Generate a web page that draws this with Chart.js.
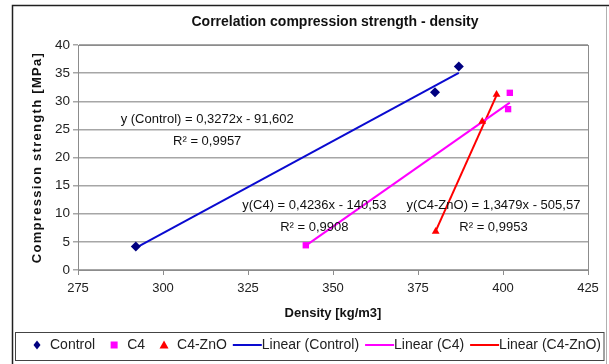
<!DOCTYPE html>
<html>
<head>
<meta charset="utf-8">
<script src="https://cdn.jsdelivr.net/npm/chart.js@4.4.1/dist/chart.umd.min.js"></script>
<style>
  html, body { margin: 0; padding: 0; background: #fff; }
  #wrap { width: 609px; height: 364px; position: relative; }
</style>
</head>
<body>
<div id="wrap"><canvas id="chart" width="609" height="364"></canvas></div>
<script>
// series names
const seriesNames = ["Control", "C4", "C4-ZnO"];

// density (x) and compression strength (y)
const controlX = [292, 380, 387];
const controlY = [4.2, 31.6, 36.2];
const c4X = [342, 402, 401.5];
const c4Y = [4.4, 31.5, 28.6];
const znoX = [380.2, 393.9, 398.1];
const znoY = [6.85, 26.4, 31.2];

// trendline coefficients as printed on the chart
const fitSlope = [0.3272, 0.4236, 1.3479];
const fitIntercept = [-91.602, -140.53, -505.57];
const fitText = ["y (Control) = 0,3272x - 91,602", "y(C4) = 0,4236x - 140,53", "y(C4-ZnO) = 1,3479x - 505,57"];
const r2Text = ["R\u00b2 = 0,9957", "R\u00b2 = 0,9908", "R\u00b2 = 0,9953"];

// axis ticks
const xTicks = [275, 300, 325, 350, 375, 400, 425];
const yTicks = [0, 5, 10, 15, 20, 25, 30, 35, 40];

const FONT = "'Liberation Sans', Arial, sans-serif";
const markerColors = ["#000080", "#ff00ff", "#ff0000"];
const lineColors = ["#0a0ad0", "#ff00ff", "#ff0000"];
const markerStyles = ["rectRot", "rect", "triangle"];

const pts = (xs, ys) => xs.map((x, i) => ({ x: x, y: ys[i] }));
const fitLine = (xs, k) => {
  const lo = Math.min(...xs), hi = Math.max(...xs);
  return [lo, hi].map(x => ({ x: x, y: fitSlope[k] * x + fitIntercept[k] }));
};

const allX = [controlX, c4X, znoX];
const allY = [controlY, c4Y, znoY];

const datasets = [];
seriesNames.forEach((name, k) => {
  datasets.push({
    label: name,
    type: "scatter",
    data: pts(allX[k], allY[k]),
    pointStyle: markerStyles[k],
    pointRadius: k === 0 ? 5 : 4.5,
    backgroundColor: markerColors[k],
    borderColor: markerColors[k],
    borderWidth: 0,
    order: 1,
  });
});
seriesNames.forEach((name, k) => {
  datasets.push({
    label: "Linear (" + name + ")",
    type: "line",
    data: fitLine(allX[k], k),
    borderColor: lineColors[k],
    borderWidth: 2,
    pointRadius: 0,
    fill: false,
    order: 2,
  });
});

// annotation anchors in data units
const notes = [
  { x: 313, y: 26.8, r: 22.9 },
  { x: 344.5, y: 11.4, r: 7.5 },
  { x: 397.2, y: 11.4, r: 7.5 },
];

const decor = {
  id: "decor",
  beforeDraw(chart) {
    const ctx = chart.ctx;
    ctx.save();
    ctx.fillStyle = "#fff";
    ctx.fillRect(0, 0, chart.width, chart.height);
    // outer frame
    ctx.strokeStyle = "#202020";
    ctx.lineWidth = 1.5;
    ctx.beginPath();
    ctx.moveTo(12.5, 400); ctx.lineTo(12.5, 5.5); ctx.lineTo(609, 5.5);
    ctx.stroke();
    ctx.strokeStyle = "#b0b0b0";
    ctx.lineWidth = 1;
    ctx.beginPath();
    ctx.moveTo(606.5, 6); ctx.lineTo(606.5, 364);
    ctx.stroke();
    ctx.restore();
  },
  afterDatasetsDraw(chart) {
    const ctx = chart.ctx;
    const xs = chart.scales.x, ys = chart.scales.y;
    const a = chart.chartArea;
    ctx.save();
    // plot border
    ctx.strokeStyle = "#8c8c8c";
    ctx.lineWidth = 1;
    ctx.strokeRect(Math.round(a.left) + 0.5, Math.round(a.top) + 0.5, Math.round(a.right - a.left), Math.round(a.bottom - a.top));
    // equations
    ctx.fillStyle = "#111";
    ctx.font = "13px " + FONT;
    ctx.textAlign = "center";
    ctx.textBaseline = "middle";
    notes.forEach((n, k) => {
      ctx.fillText(fitText[k], xs.getPixelForValue(n.x), ys.getPixelForValue(n.y));
      ctx.fillText(r2Text[k], xs.getPixelForValue(n.x), ys.getPixelForValue(n.r));
    });
    // title
    ctx.font = "bold 14px " + FONT;
    ctx.fillText("Correlation compression strength - density", 335, 22);
    // y axis title with a little tracking
    ctx.save();
    ctx.translate(37, (a.top + a.bottom) / 2);
    ctx.rotate(-Math.PI / 2);
    ctx.font = "bold 13px " + FONT;
    ctx.letterSpacing = "1.3px";
    ctx.fillText("Compression strength [MPa]", 0, 0);
    ctx.restore();
    // legend
    const top = 332, bottom = 360, left = 15.5, right = 604;
    ctx.strokeStyle = "#444";
    ctx.strokeRect(left, top + 0.5, right - left, bottom - top);
    const cy = 345;
    ctx.font = "14px " + FONT;
    ctx.textAlign = "left";
    let x = 37;
    chart.data.datasets.forEach((ds, i) => {
      if (ds.type === "scatter") {
        const k = i;
        ctx.fillStyle = markerColors[k];
        ctx.beginPath();
        if (markerStyles[k] === "rectRot") {
          ctx.moveTo(x, cy - 4.5); ctx.lineTo(x + 3.5, cy); ctx.lineTo(x, cy + 4.5); ctx.lineTo(x - 3.5, cy);
        } else if (markerStyles[k] === "rect") {
          ctx.rect(x - 3.5, cy - 3.5, 7, 7);
        } else {
          ctx.moveTo(x, cy - 4.5); ctx.lineTo(x + 4.5, cy + 3.5); ctx.lineTo(x - 4.5, cy + 3.5);
        }
        ctx.fill();
        ctx.fillStyle = "#222";
        ctx.fillText(ds.label, x + 13, cy);
        const end = x + 13 + ctx.measureText(ds.label).width;
        x = ds.label === "C4-ZnO" ? end + 6 : end + 19;
      } else {
        ctx.strokeStyle = ds.borderColor;
        ctx.lineWidth = 2;
        ctx.beginPath();
        ctx.moveTo(x, cy); ctx.lineTo(x + 29, cy);
        ctx.stroke();
        ctx.fillStyle = "#222";
        ctx.fillText(ds.label, x + 29, cy);
        x = x + 29 + ctx.measureText(ds.label).width + 6;
      }
    });
    ctx.restore();
  },
};

new Chart(document.getElementById("chart"), {
  data: { datasets: datasets },
  options: {
    responsive: false,
    animation: false,
    layout: { padding: { left: 12, top: 45, right: 21, bottom: 0 } },
    plugins: {
      legend: { display: false },
      title: { display: false },
      tooltip: { enabled: false },
    },
    scales: {
      x: {
        type: "linear",
        min: 275,
        max: 425,
        afterBuildTicks: s => { s.ticks = xTicks.map(v => ({ value: v })); },
        afterFit: s => { s.height = 94; },
        ticks: { color: "#222", font: { family: FONT, size: 13 }, padding: 6 },
        grid: { drawOnChartArea: false, drawTicks: true, tickLength: 5, color: "#8c8c8c" },
        border: { color: "#8c8c8c" },
        title: {
          display: true,
          text: "Density [kg/m3]",
          color: "#111",
          font: { family: FONT, size: 13, weight: "bold" },
          padding: { top: 0, bottom: 43 },
        },
      },
      y: {
        type: "linear",
        min: 0,
        max: 40,
        afterBuildTicks: s => { s.ticks = yTicks.map(v => ({ value: v })); },
        afterFit: s => { s.width = 66; },
        ticks: { color: "#222", font: { family: FONT, size: 13.5 }, padding: 3 },
        grid: { color: "#a6a6a6", lineWidth: 1.5, tickLength: 5 },
        border: { color: "#8c8c8c" },
        title: { display: false },
      },
    },
  },
  plugins: [decor],
});
</script>
</body>
</html>
